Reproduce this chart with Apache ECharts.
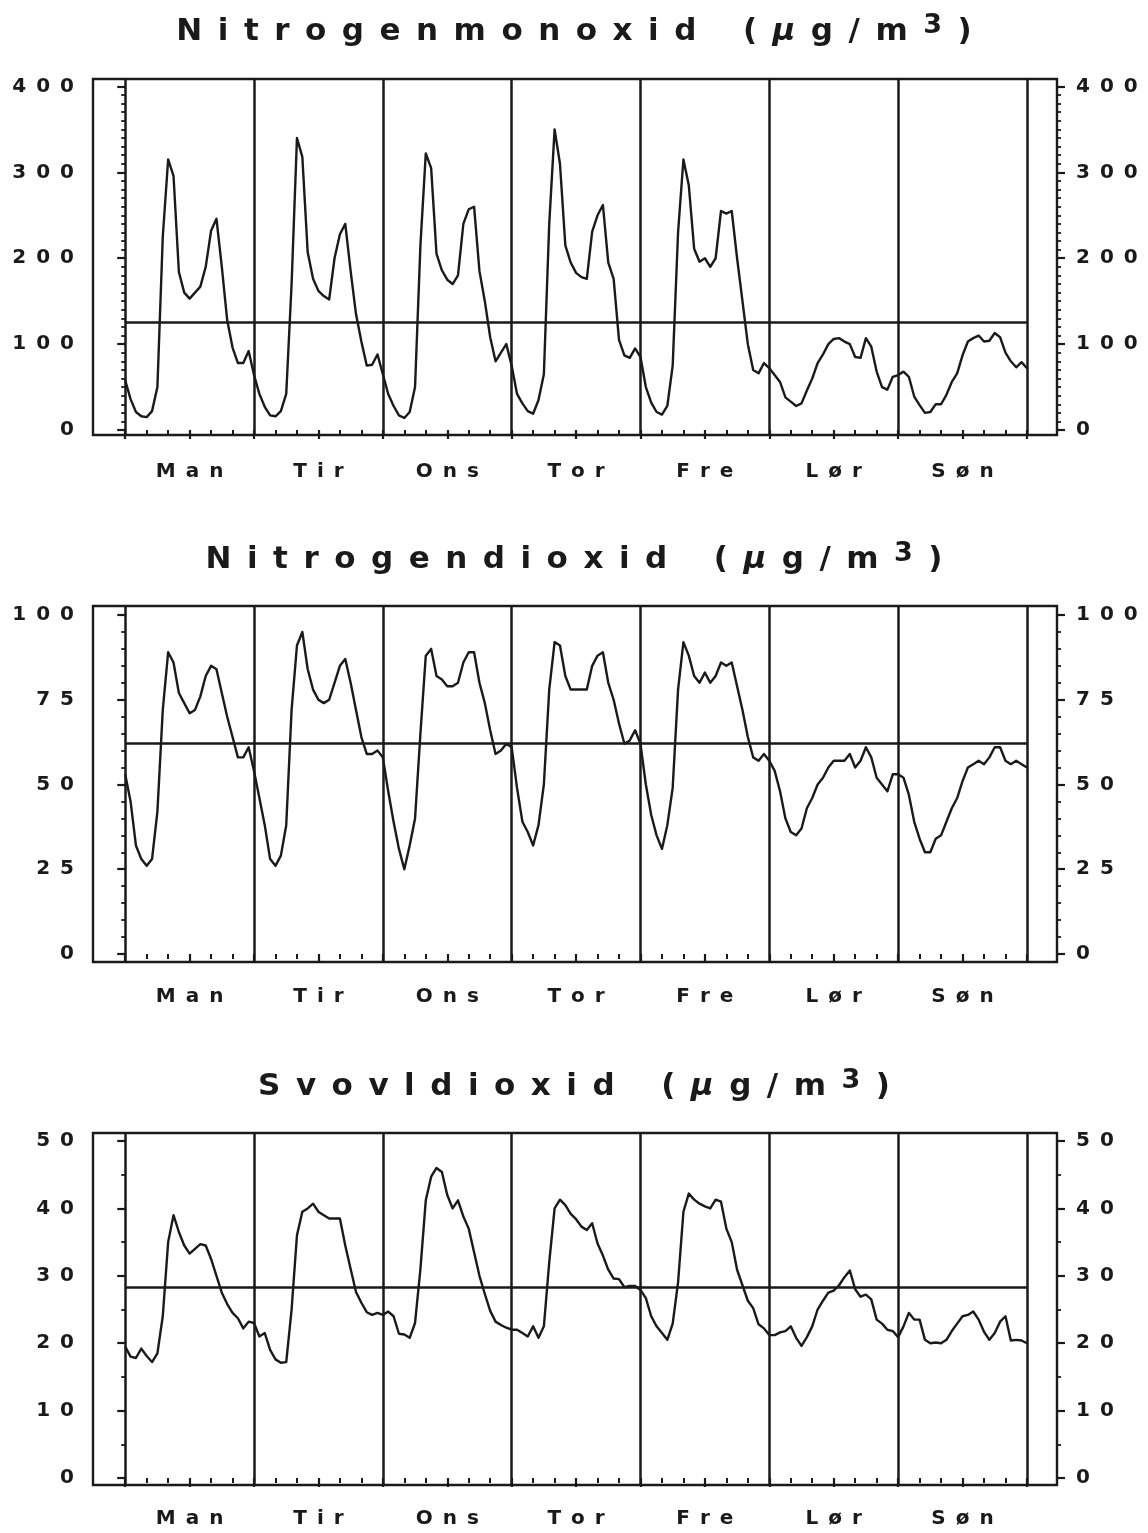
<!DOCTYPE html>
<html><head><meta charset="utf-8">
<script src="https://cdn.jsdelivr.net/npm/echarts@6/dist/echarts.min.js"></script>
<style>html,body{margin:0;padding:0;background:#fff;}#c{width:1148px;height:1533px;}</style>
</head><body><div id="c"></div>
<script>
// ---------------- data ----------------
const DAYS = ['Man','Tir','Ons','Tor','Fre','Lør','Søn'];
const TITLES = ['Nitrogenmonoxid','Nitrogendioxid','Svovldioxid'];

// hourly values, Monday 00 -> Sunday 24 (169 points)
const NO = [
 58,36,21,16,15,22,50,225,315,296,184,160,153,160,167,190,232,246,190,128,96,78,78,92,
 64,42,27,17,16,22,42,170,340,318,207,176,162,156,152,200,228,240,185,135,103,75,76,88,
 65,42,28,17,14,21,50,215,322,305,205,186,175,170,180,240,257,260,185,150,108,80,90,100,
 75,42,31,22,19,35,65,240,350,310,215,195,183,178,176,231,250,262,195,176,105,87,84,95,
 85,50,32,21,18,28,75,230,315,285,211,196,200,190,200,255,252,255,200,150,100,70,66,78,
 72,64,56,38,33,28,31,46,60,78,88,100,106,107,103,100,85,84,107,97,68,50,47,62,
 64,68,62,39,29,20,21,30,30,41,56,66,87,103,107,110,103,104,113,108,90,80,73,79,72
];
const NO2 = [
 53,45,32,28,26,28,42,72,89,86,77,74,71,72,76,82,85,84,77,70,64,58,58,61,
 54,46,38,28,26,29,38,72,91,95,84,78,75,74,75,80,85,87,80,72,64,59,59,60,
 58,48,39,31,25,32,40,65,88,90,82,81,79,79,80,86,89,89,80,74,66,59,60,62,
 61,49,39,36,32,38,50,78,92,91,82,78,78,78,78,85,88,89,80,75,68,62,63,66,
 62,50,41,35,31,38,49,78,92,88,82,80,83,80,82,86,85,86,79,72,64,58,57,59,
 57,54,48,40,36,35,37,43,46,50,52,55,57,57,57,59,55,57,61,58,52,50,48,53,
 53,52,47,39,34,30,30,34,35,39,43,46,51,55,56,57,56,58,61,61,57,56,57,56,55
];
const SO2 = [
 19.5,18,17.8,19.2,18.1,17.2,18.5,24,35,39,36.5,34.5,33.3,34,34.7,34.5,32.5,30,27.5,25.8,24.5,23.7,22.2,23.2,
 23,21,21.5,19,17.6,17.1,17.2,25,36,39.5,40,40.7,39.5,39,38.5,38.5,38.5,34.5,31,27.6,26,24.6,24.2,24.5,
 24.2,24.7,24,21.4,21.3,20.8,23,31,41.2,44.7,46,45.4,42,40,41.2,38.8,37,33.5,30,27.3,24.8,23.2,22.7,22.3,
 22,22,21.5,21,22.5,20.8,22.5,32,40,41.3,40.5,39.2,38.4,37.3,36.8,37.8,34.8,33,30.9,29.6,29.5,28.3,28.5,28.5,
 27.9,26.7,24,22.5,21.5,20.5,22.9,29,39.5,42.2,41.3,40.7,40.3,40,41.3,41,37,35,30.9,28.6,26.3,25.2,22.8,22.2,
 21.2,21.2,21.6,21.8,22.5,20.8,19.6,20.9,22.5,25,26.3,27.5,27.8,28.6,29.8,30.8,28,26.9,27.2,26.5,23.5,22.9,22,21.8,
 20.9,22.5,24.5,23.5,23.5,20.5,20,20.1,20,20.5,21.8,22.9,24,24.2,24.7,23.5,21.7,20.5,21.5,23.2,24,20.4,20.5,20.4,20
];
const MEANS = [125, 62.3, 28.3];

const NO_TICKS = [0,100,200,300,400];
const NO2_TICKS = [0,25,50,75,100];
const SO2_TICKS = [0,10,20,30,40,50];

// ---------------- layout / style ----------------
const INK = '#1a1a1a';
const FONT = 'DejaVu Sans';
const SP = '\u2002';
const spaced = s => Array.from(s).join(SP);
function range(a, b, step){ const r=[]; for(let v=a; v<=b+1e-9; v+=step) r.push(+v.toFixed(4)); return r; }

const DAY_BOUNDS = range(0, 168, 24);
const HOUR_TICKS = range(0, 168, 4);
const HALF_DAY_TICKS = range(0, 168, 12);
const DAY_CENTERS = range(12, 156, 24);

const panels = [
  {title:TITLES[0], data:NO,  mean:MEANS[0], ticks:NO_TICKS,  minor:range(0,400,10), ymin:-5.8, ymax:408.7, top:79,   height:356, ttop:9,    lm:27},
  {title:TITLES[1], data:NO2, mean:MEANS[1], ticks:NO2_TICKS, minor:range(0,100,5),  ymin:-2.36,ymax:102.65,top:606,  height:356, ttop:537,  lm:25},
  {title:TITLES[2], data:SO2, mean:MEANS[2], ticks:SO2_TICKS, minor:range(0,50,5),   ymin:-1.04,ymax:51.19, top:1133, height:352, ttop:1064, lm:24}
];

const XMIN = -6, XMAX = 173.6;
const grids = [], xAxes = [], yAxes = [], series = [], titles = [];

function titleText(name){
  return `{t|${spaced(name)}${SP}${SP}${SP}(${SP}}{mu|μ}{t|${SP}g${SP}/${SP}m${SP}}{s|3}{t|${SP})}`;
}
const titleRich = {
  t: {fontFamily:FONT, fontWeight:'bold', fontSize:31, color:INK, lineHeight:36},
  mu:{fontFamily:FONT, fontWeight:'bold', fontStyle:'italic', fontSize:31, color:INK, lineHeight:36},
  s: {fontFamily:FONT, fontWeight:'bold', fontSize:27, color:INK, lineHeight:36, padding:[0,0,12,0]}
};

panels.forEach((p, i) => {
  grids.push({left:93, right:91, top:p.top, height:p.height, show:true, borderColor:INK, borderWidth:2.4,
              backgroundColor:'transparent', containLabel:false, outerBoundsMode:'none'});
  titles.push({text:titleText(p.title), left:'center', top:p.ttop,
               textStyle:{fontFamily:FONT, fontWeight:'bold', fontSize:31, color:INK, rich:titleRich}});
  const tickStyle = w => ({color:INK, width:w});
  xAxes.push({gridIndex:i, type:'value', min:XMIN, max:XMAX, position:'bottom',
    axisLine:{show:false}, splitLine:{show:false},
    axisTick:{show:true, length:5, customValues:HOUR_TICKS, lineStyle:tickStyle(2)},
    axisLabel:{show:true, customValues:DAY_CENTERS, margin:p.lm,
      formatter: v => spaced(DAYS[Math.round((v-12)/24)]),
      fontFamily:FONT, fontWeight:'bold', fontSize:20, color:INK}});
  xAxes.push({gridIndex:i, type:'value', min:XMIN, max:XMAX, position:'bottom',
    axisLine:{show:false}, splitLine:{show:false},
    axisTick:{show:true, length:9, customValues:HALF_DAY_TICKS, lineStyle:tickStyle(2.2)},
    axisLabel:{show:false}});
  ['left','right'].forEach(pos => {
    yAxes.push({gridIndex:i, type:'value', min:p.ymin, max:p.ymax, position:pos, offset:0,
      axisLine:{show:false}, splitLine:{show:false},
      axisTick:{show:true, length:8, customValues:p.ticks, lineStyle:tickStyle(2.2)},
      axisLabel:{show:true, customValues:p.ticks, margin:19, formatter: v => spaced(String(v)),
        fontFamily:FONT, fontWeight:'bold', fontSize:20, color:INK}});
    yAxes.push({gridIndex:i, type:'value', min:p.ymin, max:p.ymax, position:pos, offset:0,
      axisLine:{show:false}, splitLine:{show:false},
      axisTick:{show:true, length:4, customValues:p.minor, lineStyle:tickStyle(1.8)},
      axisLabel:{show:false}});
  });
  series.push({type:'line', xAxisIndex:2*i, yAxisIndex:4*i,
    data:p.data.map((v, h) => [h, v]), showSymbol:false, symbol:'none', smooth:false,
    lineStyle:{color:INK, width:2.4, join:'round'}, silent:true, animation:false,
    markLine:{silent:true, symbol:['none','none'], animation:false, label:{show:false},
      lineStyle:{color:INK, width:2.5, type:'solid', opacity:1}, emphasis:{disabled:true},
      data:[...DAY_BOUNDS.map(d => ({xAxis:d})),
            [{coord:[0, p.mean]}, {coord:[168, p.mean]}]]}});
});

const chart = echarts.init(document.getElementById('c'), null, {renderer:'canvas', width:1148, height:1533});
chart.setOption({
  backgroundColor:'#ffffff', animation:false,
  title:titles, grid:grids, xAxis:xAxes, yAxis:yAxes, series:series
});
</script></body></html>
